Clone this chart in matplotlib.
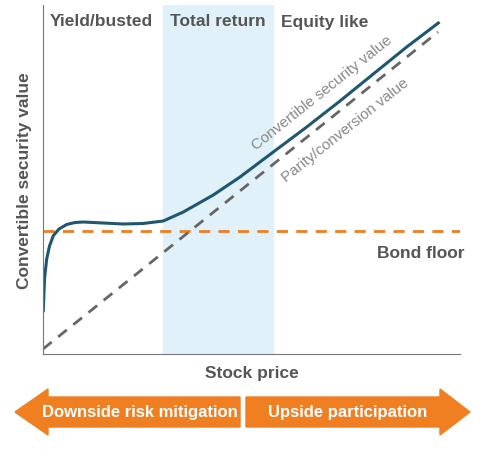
import matplotlib.pyplot as plt
from matplotlib.patches import Polygon

plt.rcParams['font.family'] = ['Liberation Sans', 'DejaVu Sans']

# curve (stock price, value)
cx = [0.3, 1.5, 3.7, 6.5, 10.3, 16, 23.7, 32, 40.3, 60, 80.3, 100, 120.3, 140.3, 170.3, 197, 230.3, 263.7, 297, 330.3, 363.7, 395.3]
cy = [43.3, 75, 95, 108, 118.3, 125, 129.5, 131.5, 132, 131, 130, 130.5, 133, 142, 159, 177, 202, 227, 253, 280, 307, 331]
px = [0, 395]
py = [5, 322]
bond_floor = 123
zone = (120, 230)

fig = plt.figure(figsize=(4.83, 4.6), dpi=100)
ax = fig.add_axes([43/483, 105/460, 417/483, 349/460])
ax.set_xlim(0, 417)
ax.set_ylim(0, 349)
ax.axvspan(*zone, color='#e1f1f9', zorder=0)
ax.axhline(bond_floor, color='#ef7d22', lw=2, ls=(0, (4, 3)))
ax.plot(px, py, color='#666666', lw=2, ls=(0, (4, 3)))
ax.plot(cx, cy, color='#1f5670', lw=2.2)
for s in ['top', 'right']:
    ax.spines[s].set_visible(False)
for s in ['left', 'bottom']:
    ax.spines[s].set_color('#777777')
ax.set_xticks([])
ax.set_yticks([])

gray = '#555555'
kw = dict(color=gray, fontsize=12.5, fontweight='bold', va='center')
ax.text(7, 333, 'Yield/busted', **kw)
ax.text(127, 333, 'Total return', **kw)
ax.text(238, 333, 'Equity like', **kw)
ax.text(422, 101, 'Bond floor', ha='right', **kw)
ax.text(279, 262, 'Convertible security value', rotation=38.5, color='#888888',
        fontsize=11, ha='center', va='center')
ax.text(302, 225, 'Parity/conversion value', rotation=38.5, color='#888888',
        fontsize=11, ha='center', va='center')
ax.set_xlabel('Stock price', color=gray, fontsize=12.5, fontweight='bold', labelpad=8)
ax.set_ylabel('Convertible security value', color=gray, fontsize=12.5, fontweight='bold', labelpad=8)

# bottom arrows
fa = fig.add_axes([0, 0, 1, 1])
fa.set_xlim(0, 483)
fa.set_ylim(460, 0)
fa.axis('off')
orange = '#f07f22'
fa.add_patch(Polygon([[15, 413], [48, 390], [48, 398], [240, 398], [240, 428], [48, 428], [48, 436]],
                     color=orange))
fa.add_patch(Polygon([[246, 398], [440, 398], [440, 390], [470, 413], [440, 436], [440, 428], [246, 428]],
                     color=orange))
fa.text(140, 413, 'Downside risk mitigation', color='white', fontsize=12, fontweight='bold',
        ha='center', va='center')
fa.text(348, 413, 'Upside participation', color='white', fontsize=12, fontweight='bold',
        ha='center', va='center')

fig.savefig('out.png', dpi=100)
